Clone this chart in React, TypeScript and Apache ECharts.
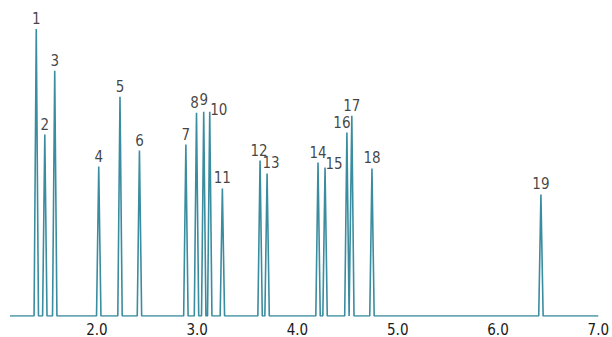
import React, { useEffect, useRef } from "react";
import * as echarts from "echarts";

// Retention times (min) and peak heights (arbitrary units)
const peakNames = ["1","2","3","4","5","6","7","8","9","10","11","12","13","14","15","16","17","18","19"];
const retentionTimes = [1.395, 1.48, 1.579, 2.018, 2.23, 2.424, 2.887, 2.993, 3.065, 3.125, 3.251, 3.627, 3.697, 4.205, 4.275, 4.493, 4.542, 4.743, 6.428];
const peakHeights = [288, 182, 246, 150, 220, 166, 172, 204, 205, 205, 128, 156, 143, 154, 149, 184, 201, 148, 122];
const runStart = 1.133;
const runEnd = 7.0;
const tickValues = [2, 3, 4, 5, 6, 7];

// label offsets (style only)
const labelOffsets: [number, number][] = [
  [0, 0], [0, 0], [0, 0], [0, 0], [0, 0], [0, 0], [0, 0],
  [-2, 0], [0, -2], [9, 8], [0, 0], [-1, 0], [4, 0], [0, 0],
  [9, 7], [-5, 0], [0, 0], [0, 0], [0, 0],
];
const halfWidth = 0.022;
const font = "'DejaVu Sans Condensed', 'DejaVu Sans', sans-serif";

export default function App() {
  const ref = useRef<HTMLDivElement>(null);
  useEffect(() => {
    if (!ref.current) return;
    const chart = echarts.init(ref.current, null, { renderer: "svg" });
    const trace: [number, number][] = [[runStart, 0]];
    retentionTimes.forEach((rt, i) => {
      trace.push([rt - halfWidth, 0]);
      trace.push([rt, peakHeights[i]]);
      trace.push([rt + halfWidth, 0]);
    });
    trace.push([runEnd, 0]);
    const color = "#3a8c9f";
    chart.setOption({
      animation: false,
      grid: { left: 10, right: 10, top: 17, bottom: 20 },
      xAxis: {
        type: "value",
        min: runStart,
        max: runEnd,
        axisLine: { show: false },
        axisTick: { show: false },
        splitLine: { show: false },
        axisLabel: {
          customValues: tickValues,
          formatter: (v: number) => v.toFixed(1),
          color: "#1a1a1a",
          fontSize: 15,
          margin: 6,
          fontFamily: font,
        },
      },
      yAxis: {
        type: "value",
        min: 0,
        max: 300,
        show: false,
      },
      series: [
        {
          type: "line",
          data: trace,
          showSymbol: false,
          lineStyle: { color, width: 1.6 },
          silent: true,
        },
        {
          type: "scatter",
          symbolSize: 1,
          itemStyle: { color: "rgba(0,0,0,0)" },
          silent: true,
          data: retentionTimes.map((rt, i) => ({
            value: [rt, peakHeights[i]],
            name: peakNames[i],
            label: {
              show: true,
              position: "top",
              distance: 2,
              offset: labelOffsets[i],
              formatter: peakNames[i],
              color: "#111",
              fontSize: 15,
              fontFamily: font,
            },
          })),
        },
      ],
    });
    return () => chart.dispose();
  }, []);
  return (
    <div
      ref={ref}
      style={{ position: "fixed", left: 0, top: 0, width: 612, height: 337, background: "#fff" }}
    />
  );
}
